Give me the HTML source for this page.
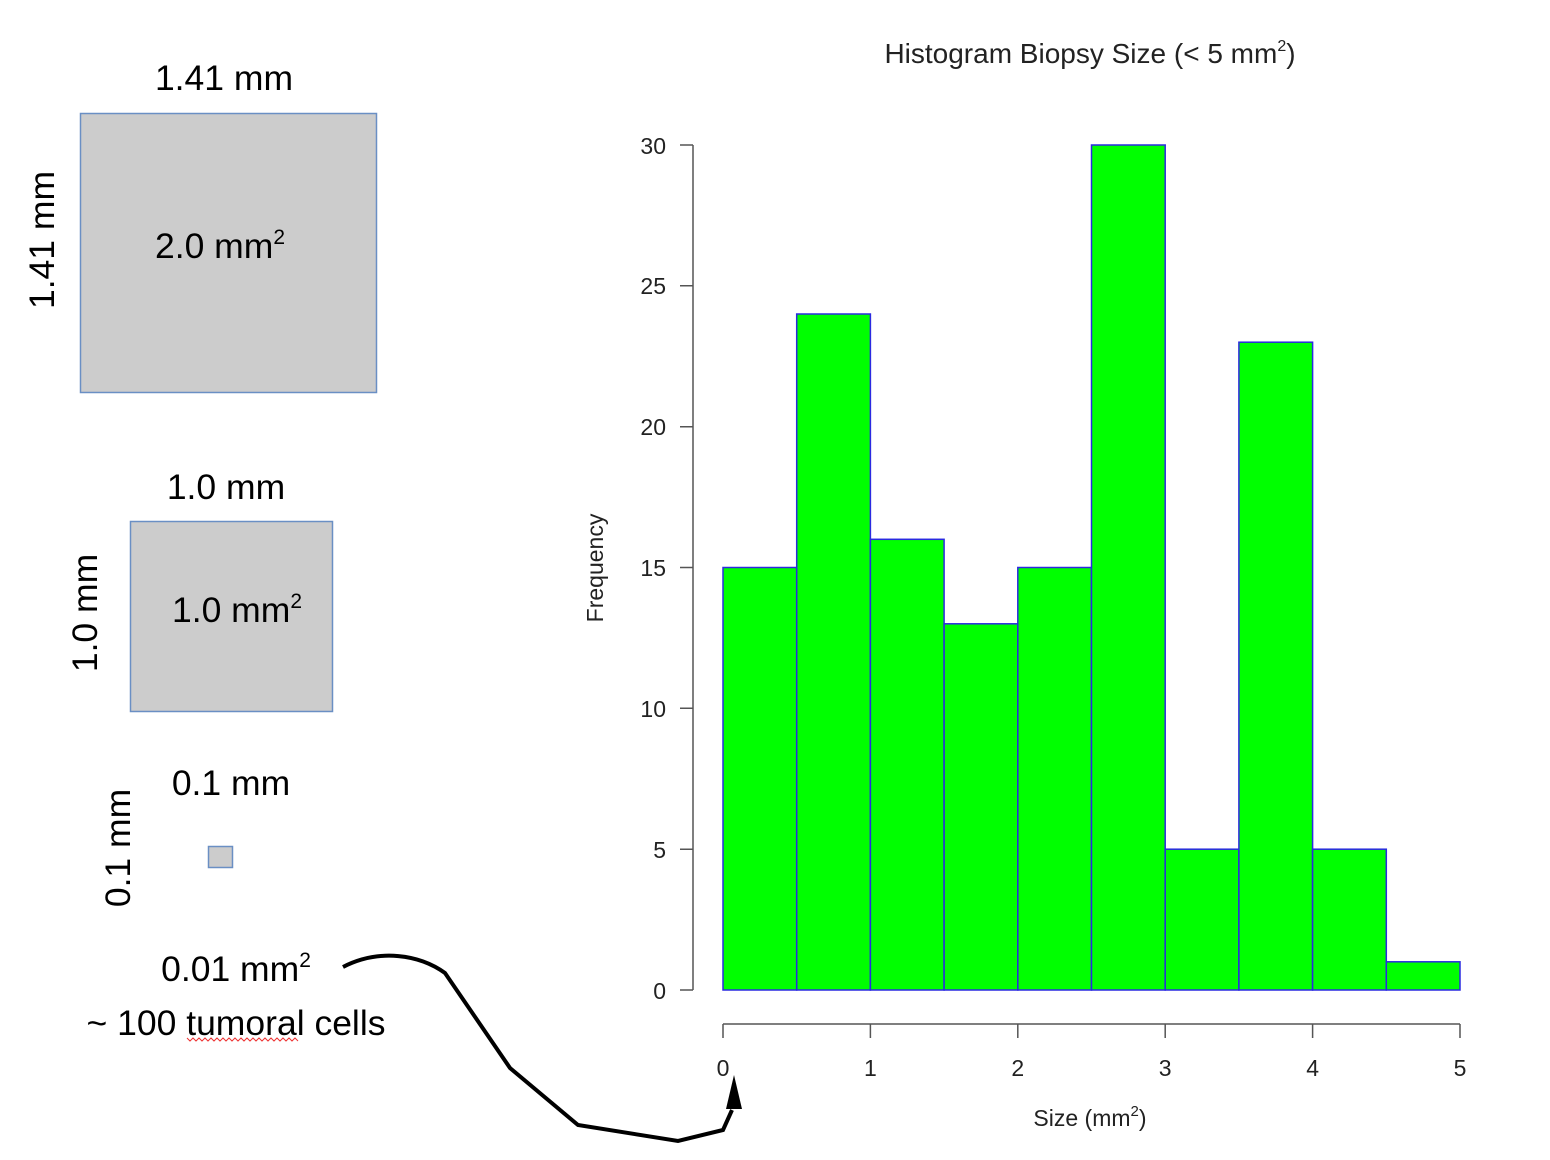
<!DOCTYPE html>
<html><head><meta charset="utf-8"><style>html,body{margin:0;padding:0;background:#fff}svg{display:block}</style></head>
<body>
<svg width="1550" height="1160" viewBox="0 0 1550 1160" xmlns="http://www.w3.org/2000/svg" font-family="Liberation Sans, sans-serif">
<rect width="1550" height="1160" fill="#fff"/>
<g font-size="35.5" fill="#000" text-anchor="middle">
<text x="224" y="90">1.41 mm</text>
<rect x="80.5" y="113.5" width="296" height="279" fill="#cccccc" stroke="#6a8fc4" stroke-width="1.5"/>
<text x="220" y="258">2.0 mm<tspan font-size="21" dy="-14">2</tspan></text>
<text transform="translate(54,240) rotate(-90)">1.41 mm</text>
<text x="226" y="499">1.0 mm</text>
<rect x="130.5" y="521.5" width="202" height="190" fill="#cccccc" stroke="#6a8fc4" stroke-width="1.5"/>
<text x="237" y="622">1.0 mm<tspan font-size="21" dy="-14">2</tspan></text>
<text transform="translate(97,613) rotate(-90)">1.0 mm</text>
<text x="231" y="795">0.1 mm</text>
<rect x="208.5" y="846.5" width="24" height="21" fill="#cccccc" stroke="#6a8fc4" stroke-width="1.5"/>
<text transform="translate(130,848) rotate(-90)">0.1 mm</text>
<text x="236" y="981">0.01 mm<tspan font-size="21" dy="-14">2</tspan></text>
<text x="236" y="1035">~ 100 tumoral cells</text>
</g>
<path d="M187,1038 l3,3 l3,-3 l3,3 l3,-3 l3,3 l3,-3 l3,3 l3,-3 l3,3 l3,-3 l3,3 l3,-3 l3,3 l3,-3 l3,3 l3,-3 l3,3 l3,-3 l3,3 l3,-3 l3,3 l3,-3 l3,3 l3,-3 l3,3 l3,-3 l3,3 l3,-3 l3,3 l3,-3 l3,3 l3,-3 l3,3 l3,-3 l3,3 l3,-3 l3,3" fill="none" stroke="#e33" stroke-width="1"/>
<path d="M343,967 C380,948 420,955 445,973 L510,1068 L578,1125 L678,1141 L723,1130 L732,1110" fill="none" stroke="#000" stroke-width="4"/>
<polygon points="734,1075 726,1109 742,1109" fill="#000"/>
<text x="1090" y="63" font-size="28" text-anchor="middle" fill="#222">Histogram Biopsy Size (&lt; 5 mm<tspan font-size="16" dy="-12">2</tspan><tspan dy="12">)</tspan></text>
<g fill="#00ff00" stroke="#2a2ae0" stroke-width="1.5">
<rect x="723" y="567.5" width="73.7" height="422.5"/>
<rect x="796.7" y="314" width="73.7" height="676"/>
<rect x="870.4" y="539.3" width="73.7" height="450.7"/>
<rect x="944.1" y="623.8" width="73.7" height="366.2"/>
<rect x="1017.8" y="567.5" width="73.7" height="422.5"/>
<rect x="1091.5" y="145" width="73.7" height="845"/>
<rect x="1165.2" y="849.2" width="73.7" height="140.8"/>
<rect x="1238.9" y="342.2" width="73.7" height="647.8"/>
<rect x="1312.6" y="849.2" width="73.7" height="140.8"/>
<rect x="1386.3" y="961.8" width="73.7" height="28.2"/>
</g>
<g stroke="#555" stroke-width="1.5" fill="none">
<path d="M693,145 V990 M680,990 H693 M680,849.2 H693 M680,708.3 H693 M680,567.5 H693 M680,426.7 H693 M680,285.8 H693 M680,145 H693"/>
<path d="M723,1024 H1460 M723,1024 V1038 M870.4,1024 V1038 M1017.8,1024 V1038 M1165.2,1024 V1038 M1312.6,1024 V1038 M1460,1024 V1038"/>
</g>
<g font-size="23" fill="#222" text-anchor="end">
<text x="666" y="999">0</text><text x="666" y="858">5</text><text x="666" y="717">10</text><text x="666" y="576">15</text><text x="666" y="435">20</text><text x="666" y="294">25</text><text x="666" y="154">30</text>
</g>
<g font-size="23" fill="#222" text-anchor="middle">
<text x="723" y="1076">0</text><text x="870.4" y="1076">1</text><text x="1017.8" y="1076">2</text><text x="1165.2" y="1076">3</text><text x="1312.6" y="1076">4</text><text x="1460" y="1076">5</text>
<text x="1090" y="1126">Size (mm<tspan font-size="15" dy="-10">2</tspan><tspan dy="10">)</tspan></text>
<text transform="translate(603,568) rotate(-90)">Frequency</text>
</g>
</svg>
</body></html>
